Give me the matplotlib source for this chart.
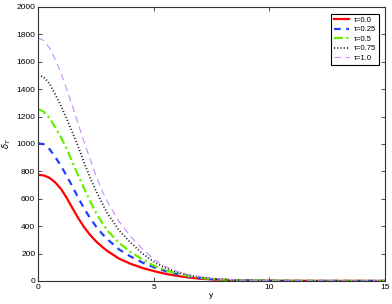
import numpy as np
import matplotlib
matplotlib.use('Agg')
import matplotlib.pyplot as plt

# ------------------------------- DATA --------------------------------------- #

y = [0, 0.25, 0.5, 0.75, 1, 1.25, 1.5, 1.75, 2, 2.25, 2.5, 2.75, 3, 3.5, 4,
     4.5, 5, 5.5, 6, 6.5, 7, 7.5, 8, 9, 10, 11, 12, 13, 15]

d_tau0 = [775, 770, 752, 718, 670, 603, 528, 455, 390, 336, 290, 252, 218, 163, 125,
          95, 72, 52, 37, 25, 16, 11, 7, 2.5, 1, 0.4, 0.1, 0, 0]
d_tau025 = [1005, 998, 962, 903, 838, 763, 685, 603, 527, 459, 399, 348, 304, 230, 178,
            135, 100, 72, 50, 33, 21, 13, 8, 3, 1.1, 0.4, 0.1, 0, 0]
d_tau05 = [1255, 1235, 1188, 1120, 1045, 960, 862, 765, 672, 583, 500, 430, 368, 278, 212,
           158, 112, 78, 54, 36, 23, 14, 9, 3.3, 1.2, 0.4, 0.1, 0, 0]
d_tau075 = [1505, 1488, 1440, 1360, 1275, 1180, 1080, 975, 860, 755, 660, 575, 492, 370, 280,
            202, 140, 95, 65, 42, 27, 17, 10, 3.6, 1.3, 0.5, 0.15, 0, 0]
d_tau1 = [1775, 1755, 1700, 1615, 1515, 1395, 1270, 1140, 1010, 890, 770, 665, 578, 435, 325,
          235, 160, 105, 70, 46, 30, 19, 12, 4.5, 1.6, 0.5, 0.15, 0, 0]

labels = ['τ=0.0', 'τ=0.25', 'τ=0.5', 'τ=0.75', 'τ=1.0']

# ------------------------------- PLOT --------------------------------------- #

plt.rcParams['font.family'] = ['Liberation Sans', 'DejaVu Sans']
plt.rcParams['font.size'] = 6

fig = plt.figure(figsize=(3.92, 3.04), dpi=100)
ax = fig.add_axes([0.097, 0.076, 0.885, 0.901])

ax.plot(y, d_tau0, color='#ff0000', ls='-', lw=1.6, label=labels[0])
ax.plot(y, d_tau025, color='#2040ff', ls=(0, (3, 2.5)), lw=1.6, label=labels[1])
ax.plot(y, d_tau05, color='#66ee00', ls=(0, (4, 1.5, 1, 1.5)), lw=1.6, label=labels[2])
ax.plot(y, d_tau075, color='#202020', ls=(0, (0.6, 1.2)), lw=1.3, label=labels[3])
ax.plot(y, d_tau1, color='#cc88ff', ls=(0, (6, 4)), lw=0.8, label=labels[4])

ax.set_xlim(0, 15)
ax.set_ylim(0, 2000)
ax.set_xticks([0, 5, 10, 15])
ax.set_yticks(np.arange(0, 2001, 200))
ax.tick_params(direction='in', top=True, right=True, length=3, width=0.5, pad=2)
for s in ax.spines.values():
    s.set_linewidth(0.8)
    s.set_color('#333333')

ax.set_xlabel('y', labelpad=1)
ax.set_ylabel(r'$\delta_T$', labelpad=2)

leg = ax.legend(loc='upper right', fancybox=False, edgecolor='black',
                handlelength=2.0, handletextpad=0.6, borderpad=0.35,
                labelspacing=0.3, framealpha=1, fontsize=5.5,
                bbox_to_anchor=(0.993, 0.99))
leg.get_frame().set_linewidth(0.8)

fig.savefig('out.png', dpi=100)
